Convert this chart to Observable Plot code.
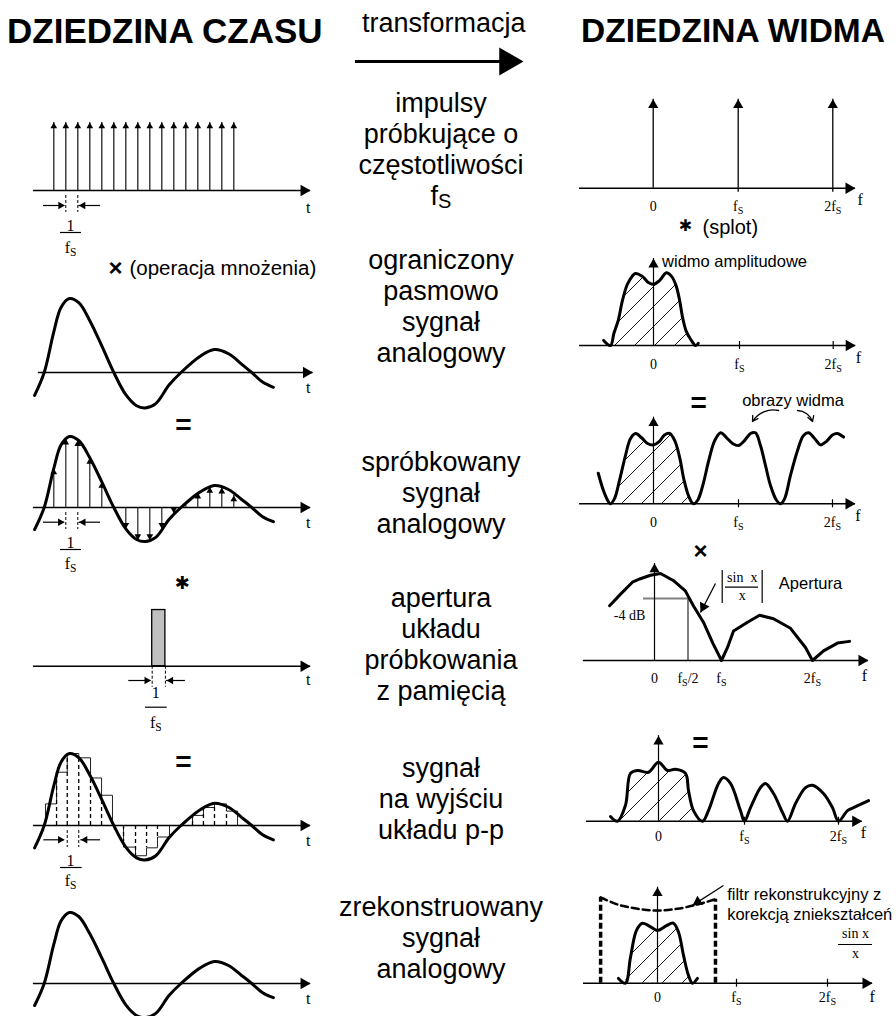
<!DOCTYPE html>
<html><head><meta charset="utf-8">
<script src="https://cdn.jsdelivr.net/npm/d3@7"></script>
<script src="https://cdn.jsdelivr.net/npm/@observablehq/plot@0.6"></script>
<style>
html,body{margin:0;padding:0;background:#fff;}
#page{position:relative;width:896px;height:1016px;overflow:hidden;background:#fff;font-family:"Liberation Sans",Arial,sans-serif;color:#000;}
.title{position:absolute;font-weight:bold;font-size:35px;line-height:1;white-space:nowrap;}
.mid{position:absolute;left:311px;width:260px;text-align:center;font-size:27px;line-height:31px;white-space:nowrap;}
.mid sub{font-size:20px;line-height:0;position:relative;top:3px;vertical-align:baseline;}
svg.panel{position:absolute;overflow:visible;}
</style></head><body>
<div id="page">
<svg width="0" height="0" style="position:absolute"><defs>
<pattern id="hatch" patternUnits="userSpaceOnUse" width="20" height="20"><path d="M-5,5 L5,-5 M0,20 L20,0 M15,25 L25,15" stroke="#000" stroke-width="0.9"/></pattern>
</defs></svg>
<div class="title" style="left:7px;top:13px">DZIEDZINA CZASU</div>
<div class="title" style="left:581px;top:14px;font-size:33.5px">DZIEDZINA WIDMA</div>
<div style="position:absolute;left:362px;top:10px;font-size:27px;line-height:1;white-space:nowrap">transformacja</div>
<div class="mid" style="top:88px">impulsy<br>próbkujące o<br>częstotliwości<br>f<sub>S</sub></div>
<div class="mid" style="top:245px">ograniczony<br>pasmowo<br>sygnał<br>analogowy</div>
<div class="mid" style="top:447px">spróbkowany<br>sygnał<br>analogowy</div>
<div class="mid" style="top:583px">apertura<br>układu<br>próbkowania<br>z pamięcią</div>
<div class="mid" style="top:753px">sygnał<br>na wyjściu<br>układu p-p</div>
<div class="mid" style="top:892px">zrekonstruowany<br>sygnał<br>analogowy</div>
</div>
<script>
// ================= DATA =================
// time domain: t in sampling periods (1/fs), amplitude normalised to the first peak
const sampleTimes = [0,1,2,3,4,5,6,7,8,9,10,11,12,13,14,15];
const sampleValues = [0.55,0.97,0.95,0.7,0.36,0,-0.3,-0.46,-0.46,-0.3,-0.08,0.04,0.21,0.29,0.28,0.17];
const signalT = [-1.6,-0.8,0,0.6,1.3,2.1,3.0,4.0,5.0,6.0,6.9,7.6,8.5,9.6,10.6,12.2,13.4,14.6,15.6,16.5,17.4,18.3];
const signalV = [-0.31,0,0.55,0.88,1.0,0.94,0.7,0.36,0,-0.3,-0.45,-0.48,-0.42,-0.17,0,0.22,0.31,0.25,0.12,0,-0.13,-0.2];
// sample-and-hold output: step start times and held values
const zohT = [-0.69,0.23,1.12,2.08,3.06,3.98,4.89,5.81,6.81,7.73,8.64,9.64,10.56,11.56,12.47,13.39,14.39];
const zohEnd = 15.31;
const zohV = [0.3,0.74,1.0,0.94,0.66,0.42,0,-0.3,-0.42,-0.31,-0.16,0,0,0.14,0.25,0.3,0.2];
// aperture pulse
const apertureEdges = [8.2, 9.3];
const apertureHeight = 0.78;

// frequency domain: f in units of fs, magnitude normalised
const impulseF = [0, 1, 2];
const tickF = [0, 1, 2];
const tickLab = ["0", "f_S", "2f_S"];
const specTicks = [1, 2];
// band-limited spectrum
const bandF = [-0.58,-0.5,-0.46,-0.41,-0.36,-0.3,-0.21,-0.13,-0.06,0,0.07,0.15,0.21,0.26,0.3,0.34,0.38,0.43,0.49,0.52];
const bandM = [0.07,0,0.17,0.35,0.63,0.86,1.0,0.96,0.875,0.85,0.9,1.01,0.96,0.84,0.65,0.38,0.2,0.09,0,0.03];
// sampled spectrum (baseband + images)
const sampF = [-0.65,-0.59,-0.54,-0.51,-0.46,-0.4,-0.33,-0.27,-0.21,-0.14,-0.07,0,0.07,0.13,0.19,0.25,0.31,0.36,0.42,0.47,0.52,0.58,0.65,0.72,0.79,0.86,0.93,1.0,1.064,1.128,1.18,1.234,1.287,1.34,1.404,1.447,1.49,1.553,1.628,1.69,1.745,1.81,1.872,1.936,2.0,2.05,2.117];
const sampM = [0.43,0.19,0.05,0,0.07,0.33,0.68,0.92,0.99,0.93,0.85,0.83,0.88,0.97,0.99,0.89,0.64,0.33,0.09,0,0.05,0.26,0.61,0.89,1.0,0.93,0.85,0.82,0.89,0.99,1.0,0.82,0.54,0.26,0.05,0,0.07,0.4,0.75,0.96,1.0,0.92,0.83,0.88,0.97,0.99,0.94];
const sampBand = [-0.51, 0.47];
// aperture |sin x / x|
const sincF = [-0.67,-0.51,-0.33,-0.21,-0.06,0.09,0.28,0.46,0.58,0.73,0.87,1.0,1.066,1.132,1.286,1.418,1.571,1.758,1.923,2.0,2.121,2.275,2.407];
const sincM = [0.63,0.76,0.9,0.94,0.98,1.0,0.92,0.8,0.63,0.44,0.2,0,0.15,0.34,0.44,0.52,0.48,0.37,0.15,0,0.11,0.2,0.22];
const minus4dB = 0.713;
const apTickF = [0, 0.5, 1, 2];
const apTickLab = ["0", "f_S/2", "f_S", "2f_S"];
// sample-and-hold output spectrum
const holdF = [-0.558,-0.477,-0.384,-0.326,-0.244,-0.116,0,0.105,0.198,0.314,0.349,0.407,0.512,0.581,0.698,0.756,0.837,0.953,1.0,1.064,1.17,1.223,1.309,1.404,1.457,1.543,1.649,1.723,1.84,1.936,2.0,2.096,2.16,2.32];
const holdM = [0.08,0,0.27,0.81,0.86,0.83,1.0,0.86,0.88,0.81,0.52,0.18,0,0.18,0.64,0.74,0.64,0.18,0,0.23,0.57,0.64,0.47,0.15,0,0.3,0.57,0.61,0.47,0.23,0,0.18,0.23,0.35];
const holdBand = [-0.477, 0.512];
// reconstructed spectrum and reconstruction filter
const recF = [-0.494,-0.405,-0.342,-0.266,-0.19,-0.114,0,0.114,0.2,0.266,0.33,0.392,0.443,0.506];
const recM = [0.08,0,0.43,0.88,1.0,0.96,0.88,0.96,1.0,0.85,0.46,0.13,0,0.08];
const filterF = [-0.72,-0.5,-0.25,0,0.25,0.5,0.734];
const filterM = [1.43,1.31,1.24,1.21,1.24,1.31,1.40];

// ================= HELPERS =================
const SERIF = "Liberation Serif, Times New Roman, serif";
const SANS = "Liberation Sans, Arial, sans-serif";
const STYLE = {background: "transparent", overflow: "visible", fontFamily: SANS};
const page = document.getElementById("page");
const zip = (a, b) => a.map((x, i) => ({x, y: b[i]}));
const signal = zip(signalT, signalV);

function subscripts(svg) {
  const NS = "http://www.w3.org/2000/svg";
  svg.querySelectorAll("text").forEach(el => {
    if (el.children.length) return;
    const s = el.textContent;
    if (!s.includes("_S")) return;
    el.textContent = "";
    s.split("_S").forEach((p, i) => {
      if (i > 0) {
        const ts = document.createElementNS(NS, "tspan");
        ts.setAttribute("font-size", "0.72em");
        ts.setAttribute("dy", "3");
        ts.textContent = "S";
        el.appendChild(ts);
      }
      if (p) {
        const ts = document.createElementNS(NS, "tspan");
        if (i > 0) ts.setAttribute("dy", "-3");
        ts.textContent = p;
        el.appendChild(ts);
      }
    });
  });
}
function place(svg, left, top) {
  svg.classList.add("panel");
  svg.style.left = left + "px";
  svg.style.top = top + "px";
  subscripts(svg);
  page.appendChild(svg);
}
function head(data, angle, r, extraDy = 0, extraDx = 0) {
  const a = angle * Math.PI / 180, k = 1.555 * r;
  return Plot.dot(data, {x: "x", y: "y", symbol: "triangle", r, fill: "#000", stroke: "none",
    rotate: angle, dx: extraDx - k * Math.sin(a), dy: extraDy + k * Math.cos(a)});
}
function hAxis(span, sw = 1.5, r = 4.3) {
  return [Plot.ruleY([0], {x1: span[0], x2: span[1], stroke: "#000", strokeWidth: sw}),
          head([{x: span[1], y: 0}], 90, r)];
}
function label(data, opts) {
  return Plot.text(data, {x: "x", y: "y", text: "s", fill: "#000", ...opts});
}
function curve(data, opts = {}) {
  return Plot.line(data, {x: "x", y: "y", stroke: "#000", strokeWidth: 3, curve: "catmull-rom",
    strokeLinejoin: "round", strokeLinecap: "round", ...opts});
}
function leftPanel(cfg, marks) {
  place(Plot.plot({width: 330, height: cfg.height, margin: 0,
    x: {domain: [0, 1], range: [53.3, 65.3], axis: null},
    y: {domain: [0, 1], range: [cfg.zero - cfg.top, cfg.zero - cfg.top - cfg.unit], axis: null},
    style: STYLE, marks}), 0, cfg.top);
}
function rightPanel(cfg, marks) {
  // frequency (in fs) -> page position, piecewise through the drawn 0, fs, 2fs positions
  const fpos = d3.scaleLinear().domain([0, 1, 2]).range(cfg.xr);
  place(Plot.plot({width: 336, height: cfg.height, margin: 0,
    x: {transform: f => fpos(f), domain: [560, 896], range: [0, 336], axis: null},
    y: {domain: [0, 1], range: [cfg.zero - cfg.top, cfg.zero - cfg.top - cfg.unit], axis: null},
    style: STYLE, marks}), 560, cfg.top);
}
function dims(cfg, d) {
  const u = px => -px / cfg.unit;
  return [
    Plot.ruleY([0], {x1: d.left[0], x2: d.left[1], dy: d.arrowDy, strokeWidth: 1.2}),
    head([{x: d.left[1], y: 0}], 90, 2.8, d.arrowDy),
    Plot.ruleY([0], {x1: d.right[0], x2: d.right[1], dy: d.arrowDy, strokeWidth: 1.2}),
    head([{x: d.right[1], y: 0}], -90, 2.8, d.arrowDy),
    Plot.ruleX(d.edges, {y1: u(d.dash[0]), y2: u(d.dash[1]), strokeWidth: 1, strokeDasharray: "3,2"}),
    Plot.ruleY([0], {x1: d.bar[0], x2: d.bar[1], dy: d.barDy, strokeWidth: 1.2}),
    label([{x: d.fx, y: 0, s: "1"}], {dy: d.oneDy, fontFamily: SERIF, fontSize: 16}),
    label([{x: d.fx, y: 0, s: "f_S"}], {dy: d.fsDy, fontFamily: SERIF, fontSize: 16})
  ];
}
const tLabel = dy => label([{x: 21.2, y: 0, s: "t"}], {dy, fontFamily: SERIF, fontSize: 16});
const bigSign = (x, y, s, size = 28) => label([{x, y, s}], {fontWeight: "bold", fontSize: size});
function specCommon(cfg, axisSpan, upTop, labDy, fx, fDy, labF = tickF, labS = tickLab, ticks = true) {
  const m = [
    ...hAxis(axisSpan),
    Plot.ruleX([0], {y1: 0, y2: upTop, stroke: "#000", strokeWidth: 1.2}),
    head([{x: 0, y: upTop}], 0, 3.8),
    label(labF.map((f, i) => ({x: f, y: 0, s: labS[i]})), {dy: labDy, fontFamily: SERIF, fontSize: 14}),
    label([{x: fx, y: 0, s: "f"}], {dy: fDy, fontFamily: SERIF, fontSize: 16})
  ];
  if (ticks) m.push(Plot.ruleX(specTicks, {y1: -4 / cfg.unit, y2: 4 / cfg.unit, stroke: "#000", strokeWidth: 1.2}));
  return m;
}
const inBand = (pts, band) => pts.filter(p => p.x >= band[0] - 1e-9 && p.x <= band[1] + 1e-9);
const hatch = pts => Plot.areaY(pts, {x: "x", y: "y", fill: "url(#hatch)", curve: "catmull-rom"});

// ================= TRANSFORM ARROW =================
place(Plot.plot({width: 200, height: 40, margin: 0,
  x: {domain: [0, 1], range: [15, 183], axis: null},
  y: {domain: [0, 1], range: [21, 0], axis: null}, style: STYLE,
  marks: [Plot.ruleY([0], {x1: 0, x2: 0.9, strokeWidth: 3}), head([{x: 1, y: 0}], 90, 10.4)]}), 340, 40);

// ================= LEFT COLUMN =================
const L1 = {top: 80, height: 175, zero: 190, unit: 68};
leftPanel(L1, [
  ...hAxis([-1.7, 21.4]),
  Plot.ruleX(sampleTimes, {y1: 0, y2: 1, stroke: "#222", strokeWidth: 1.3}),
  head(sampleTimes.map(t => ({x: t, y: 1})), 0, 2.5),
  tLabel(17),
  ...dims(L1, {left: [-0.86, 0.92], right: [3.9, 2.08], arrowDy: 15, edges: [1, 2], dash: [5, 22],
    bar: [0.56, 2.31], barDy: 42, fx: 1.4, oneDy: 35, fsDy: 57})
]);

const L2 = {top: 255, height: 155, zero: 372, unit: 74};
leftPanel(L2, [
  label([{x: 5.14, y: 1.405, s: "×"}], {fontSize: 24, fontWeight: "bold"}),
  label([{x: 6.3, y: 1.405, s: "(operacja mnożenia)"}], {fontSize: 20.5, textAnchor: "start"}),
  ...hAxis([-1.28, 21.6]),
  curve(signal),
  tLabel(15)
]);

const L3 = {top: 410, height: 160, zero: 507, unit: 71};
const sampled = zip(sampleTimes, sampleValues);
leftPanel(L3, [
  bigSign(10.8, 1.155, "="),
  ...hAxis([-1.7, 21.4]),
  Plot.ruleX(sampled, {x: "x", y1: 0, y2: "y", stroke: "#222", strokeWidth: 1.2}),
  head(sampled.filter(d => d.y > 0.05), 0, 2.5),
  head(sampled.filter(d => d.y < -0.05), 180, 2.5),
  curve(signal),
  tLabel(15),
  ...dims(L3, {left: [-0.86, 0.9], right: [3.9, 2.1], arrowDy: 14.7, edges: [1, 2], dash: [5, 22],
    bar: [0.56, 2.31], barDy: 42, fx: 1.4, oneDy: 35, fsDy: 56})
]);

const L4 = {top: 570, height: 162, zero: 665.7, unit: 72};
leftPanel(L4, [
  label([{x: 10.7, y: 1.15, s: "✱"}], {fontSize: 18, fontFamily: "DejaVu Sans"}),
  Plot.rect([{x1: apertureEdges[0], x2: apertureEdges[1], y: apertureHeight}],
    {x1: "x1", x2: "x2", y1: 0, y2: "y", fill: "#c0c0c0", stroke: "#000", strokeWidth: 1.3}),
  ...hAxis([-1.7, 21.4]),
  tLabel(14),
  ...dims(L4, {left: [6.25, 8.1], right: [10.97, 9.4], arrowDy: 14.3, edges: apertureEdges, dash: [0, 21],
    bar: [7.64, 9.45], barDy: 41, fx: 8.5, oneDy: 27, fsDy: 57})
]);

const L5 = {top: 732, height: 158, zero: 825, unit: 72};
const zohPts = [{x: zohT[0], y: 0}, ...zip(zohT, zohV), {x: zohEnd, y: zohV[zohV.length - 1]}, {x: zohEnd, y: 0}];
leftPanel(L5, [
  bigSign(10.8, 0.875, "="),
  Plot.line(zohPts, {x: "x", y: "y", curve: "step-after", stroke: "#222", strokeWidth: 1}),
  Plot.ruleX(zip(zohT, zohV).slice(1), {x: "x", y1: 0, y2: "y", stroke: "#000", strokeWidth: 1.3, strokeDasharray: "4,3"}),
  ...hAxis([-1.7, 21.4]),
  curve(signal),
  tLabel(15),
  ...dims(L5, {left: [-0.83, 0.9], right: [3.9, 2.25], arrowDy: 14.3, edges: [zohT[2], zohT[3]], dash: [5, 22],
    bar: [0.56, 2.36], barDy: 42, fx: 1.4, oneDy: 35, fsDy: 55})
]);

const L6 = {top: 890, height: 126, zero: 983, unit: 71};
leftPanel(L6, [
  ...hAxis([-1.7, 21.4]),
  curve(signal),
  tLabel(15)
]);

// ================= RIGHT COLUMN =================
const R1 = {top: 80, height: 160, xr: [652.7, 737.7, 832.3], zero: 187.7, unit: 89};
rightPanel(R1, [
  ...hAxis([-0.867, 2.24]),
  Plot.ruleX(impulseF, {y1: 0, y2: 1, stroke: "#000", strokeWidth: 1.3}),
  Plot.ruleX(specTicks, {y1: -4 / R1.unit, y2: 0, stroke: "#000", strokeWidth: 1.3}),
  head(impulseF.map(f => ({x: f, y: 1})), 0, 3.8),
  label(tickF.map((f, i) => ({x: f, y: 0, s: tickLab[i]})), {dy: 18, fontFamily: SERIF, fontSize: 14}),
  label([{x: 2.29, y: 0, s: "f"}], {dy: 12, fontFamily: SERIF, fontSize: 16}),
  label([{x: 0.38, y: 0, s: "✱"}], {dy: 38, fontSize: 16, fontFamily: "DejaVu Sans"}),
  label([{x: 0.58, y: 0, s: "(splot)"}], {dy: 39, fontSize: 20, textAnchor: "start"})
]);

const R2 = {top: 240, height: 145, xr: [653, 739, 832.7], zero: 345, unit: 72};
const band = zip(bandF, bandM);
rightPanel(R2, [
  hatch(inBand(band, [-0.5, 0.49])),
  ...specCommon(R2, [-0.86, 2.24], 1.208, 19, 2.27, 12),
  curve(band),
  label([{x: 0.1, y: 1.167, s: "widmo amplitudowe"}], {fontSize: 16.5, textAnchor: "start"})
]);

const R3 = {top: 385, height: 160, xr: [653, 738, 832], zero: 503.3, unit: 71};
const samp = zip(sampF, sampM);
rightPanel(R3, [
  bigSign(0.53, 1.414, "="),
  label([{x: 1.039, y: 1.455, s: "obrazy widma"}], {fontSize: 16.5, textAnchor: "start"}),
  Plot.arrow([{x1: 1.426, y1: 1.314, x2: 1.149, y2: 1.159}], {x1: "x1", y1: "y1", x2: "x2", y2: "y2", bend: -35, headLength: 7, strokeWidth: 1.3}),
  Plot.arrow([{x1: 1.628, y1: 1.314, x2: 1.787, y2: 1.159}], {x1: "x1", y1: "y1", x2: "x2", y2: "y2", bend: 35, headLength: 7, strokeWidth: 1.3}),
  hatch(inBand(samp, sampBand)),
  ...specCommon(R3, [-0.87, 2.245], 1.22, 19, 2.27, 12),
  curve(samp)
]);

const R4 = {top: 545, height: 175, xr: [654, 721, 812], zero: 660, unit: 87};
rightPanel(R4, [
  label([{x: 0.687, y: 1.253, s: "×"}], {fontSize: 24, fontWeight: "bold"}),
  Plot.ruleY([minus4dB], {x1: -0.164, x2: 0.5, stroke: "#808080", strokeWidth: 2}),
  Plot.ruleX([0.5], {y1: 0, y2: minus4dB, stroke: "#808080", strokeWidth: 2}),
  ...specCommon(R4, [-1.06, 2.615], 1.115, 18, 2.57, 15, apTickF, apTickLab, false),
  curve(zip(sincF, sincM), {curve: "linear"}),
  label([{x: -0.373, y: 0.517, s: "-4 dB"}], {fontFamily: SERIF, fontSize: 14}),
  Plot.ruleX([1.008, 1.447], {y1: 0.655, y2: 1.034, stroke: "#000", strokeWidth: 1.2}),
  Plot.ruleY([0.843], {x1: 1.044, x2: 1.407, stroke: "#000", strokeWidth: 1.1}),
  label([{x: 1.228, y: 0.954, s: "sin  x"}, {x: 1.228, y: 0.747, s: "x"}], {fontFamily: SERIF, fontSize: 14}),
  label([{x: 1.63, y: 0.881, s: "Apertura"}], {fontSize: 16.5, textAnchor: "start"}),
  Plot.link([{x1: 0.91, y1: 0.885, x2: 0.687, y2: 0.552}], {x1: "x1", y1: "y1", x2: "x2", y2: "y2", strokeWidth: 1.3}),
  head([{x: 0.687, y: 0.552}], 207, 4)
]);

const R5 = {top: 720, height: 145, xr: [658, 744, 838], zero: 820.7, unit: 59};
const hold = zip(holdF, holdM);
rightPanel(R5, [
  bigSign(0.488, 1.317, "="),
  hatch(inBand(hold, holdBand)),
  ...specCommon(R5, [-0.837, 2.252], 1.45, 15, 2.266, 12),
  curve(hold)
]);

const R6 = {top: 865, height: 151, xr: [657, 736, 827], zero: 982.7, unit: 60};
const rec = zip(recF, recM);
const filt = zip(filterF, filterM);
rightPanel(R6, [
  Plot.ruleX([filt[0], filt[filt.length - 1]], {x: "x", y1: 0, y2: "y", stroke: "#000", strokeWidth: 3.5, strokeDasharray: "6,3"}),
  Plot.line(filt, {x: "x", y: "y", curve: "catmull-rom", stroke: "#000", strokeWidth: 2.5, strokeDasharray: "7,4"}),
  hatch(inBand(rec, [-0.405, 0.443])),
  ...specCommon(R6, [-0.937, 2.495], 1.6, 14, 2.49, 14),
  curve(rec),
  label([{x: 0.882, y: 1.48, s: "filtr rekonstrukcyjny z"}, {x: 0.882, y: 1.146, s: "korekcją zniekształceń"}], {fontSize: 16.5, textAnchor: "start"}),
  Plot.link([{x1: 0.835, y1: 1.628, x2: 0.443, y2: 1.297}], {x1: "x1", y1: "y1", x2: "x2", y2: "y2", strokeWidth: 1.2}),
  head([{x: 0.443, y: 1.297}], 237, 4),
  label([{x: 2.308, y: 0.83, s: "sin x"}, {x: 2.308, y: 0.495, s: "x"}], {fontFamily: SERIF, fontSize: 14}),
  Plot.ruleY([0.645], {x1: 2.121, x2: 2.495, stroke: "#000", strokeWidth: 1.1})
]);
</script>
</body></html>
